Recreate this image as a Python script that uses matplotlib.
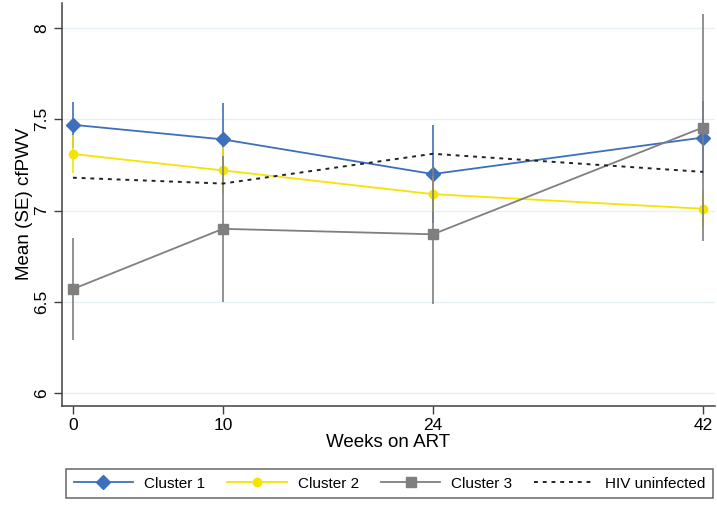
import matplotlib.pyplot as plt
import numpy as np

plt.rcParams['font.family'] = ['Liberation Sans', 'DejaVu Sans']

weeks = [0, 10, 24, 42]

cluster1 = [7.47, 7.39, 7.20, 7.40]
cluster1_se = [0.125, 0.20, 0.27, 0.20]
cluster2 = [7.31, 7.22, 7.09, 7.01]
cluster2_se = [0.105, 0.13, 0.10, 0.10]
cluster3 = [6.57, 6.90, 6.87, 7.455]
cluster3_se = [0.277, 0.40, 0.38, 0.62]
uninfected = [7.18, 7.148, 7.311, 7.212]

y_ticks = [6, 6.5, 7, 7.5, 8]
y_tick_labels = ['6', '6.5', '7', '7.5', '8']

blue = '#3d6fba'
yellow = '#f5e400'
grey = '#7f7f7f'

fig = plt.figure(figsize=(7.17, 5.05), dpi=100)
ax = fig.add_axes([0.086, 0.197, 0.911, 0.797])

for v in y_ticks:
    ax.axhline(v, color='#e6f0f4', lw=0.9, zorder=0)

# error bars (spikes without caps)
ax.errorbar(weeks, cluster1, yerr=cluster1_se, fmt='none', ecolor=blue, elinewidth=1.2, zorder=2)
ax.errorbar(weeks, cluster2, yerr=cluster2_se, fmt='none', ecolor=yellow, elinewidth=1.2, zorder=2.2)
ax.errorbar(weeks, cluster3, yerr=cluster3_se, fmt='none', ecolor=grey, elinewidth=1.2, zorder=2.4)

ax.plot(weeks, cluster1, color=blue, lw=1.3, marker='D', ms=7, label='Cluster 1', zorder=2.1)
ax.plot(weeks, cluster2, color=yellow, lw=1.3, marker='o', ms=6, label='Cluster 2', zorder=2.3)
ax.plot(weeks, cluster3, color=grey, lw=1.3, marker='s', ms=6.5, label='Cluster 3', zorder=2.5)
ax.plot(weeks, uninfected, color='#222222', lw=1.4, ls=(0, (2, 2.5)), label='HIV uninfected', zorder=2.6)

ax.set_xlim(-0.75, 42.8)
ax.set_ylim(5.932, 8.137)
ax.set_xticks(weeks)
ax.set_yticks(y_ticks)
ax.set_yticklabels(y_tick_labels, rotation=90, va='center')
ax.tick_params(axis='both', labelsize=12.5, length=6, width=1, color='#404040', pad=3)

for side in ['top', 'right']:
    ax.spines[side].set_visible(False)
for side in ['left', 'bottom']:
    ax.spines[side].set_color('#404040')
    ax.spines[side].set_linewidth(1.1)

ax.set_xlabel('Weeks on ART', fontsize=13.5, labelpad=1)
ax.set_ylabel('Mean (SE) cfPWV', fontsize=13.5, labelpad=1)

leg = fig.legend(loc='center', ncol=4, fontsize=11,
                 bbox_to_anchor=(0.543, 0.042),
                 frameon=True, fancybox=False, handlelength=3.9,
                 borderpad=0.5, borderaxespad=0, handletextpad=0.7, columnspacing=1.45)
leg.get_frame().set_edgecolor('#404040')
leg.get_frame().set_linewidth(1.1)

fig.savefig('out.png', dpi=100)
